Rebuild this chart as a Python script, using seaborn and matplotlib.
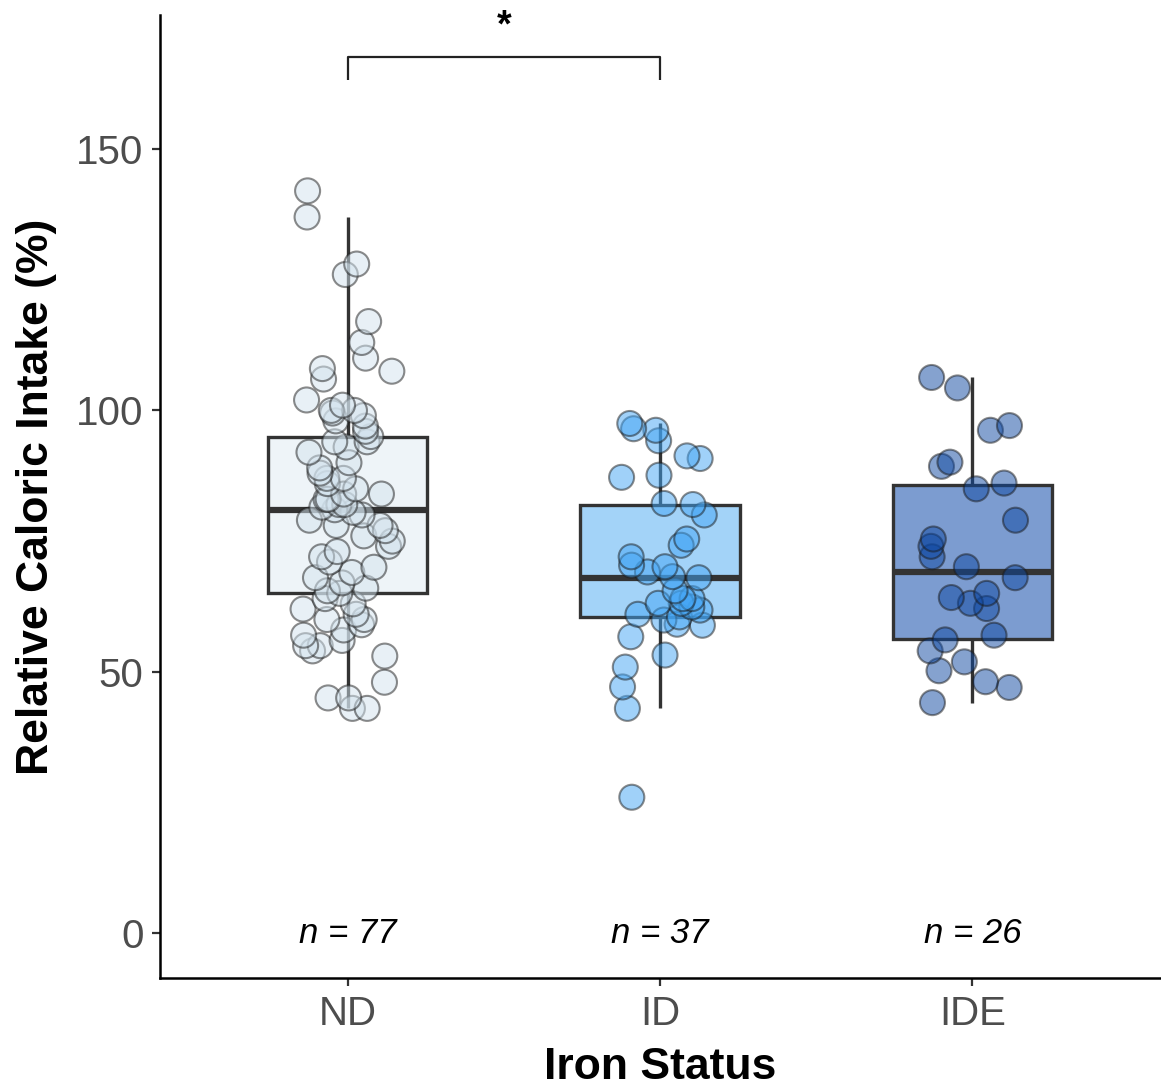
import numpy as np
import pandas as pd
import matplotlib
matplotlib.use('Agg')
import matplotlib.pyplot as plt
import seaborn as sns

# 1. DATA (relative caloric intake in %)
groups = ['ND', 'ID', 'IDE']

nd_values = [43, 43, 45, 45, 48, 53, 54, 55, 55, 56, 57, 58, 59, 60, 60, 61, 62, 63, 64,
             65,
             65.5, 66, 67, 68, 69, 70, 71, 72, 73, 74, 75, 76, 77, 78, 78, 79, 80, 80.5,
             81,
             81.5, 82, 82, 83, 83, 84, 84, 85, 86, 87, 87, 88, 89, 90, 92, 93, 94, 94,
             95,
             96, 97, 98, 99, 99.5, 100, 100, 101, 102, 106, 107.5, 108, 110, 113, 117,
             126, 128, 137, 142]

id_values = [26.0, 43.0, 47.1, 50.9, 53.2, 56.7, 58.9, 59.1, 59.9, 60.5, 61.0, 61.8,
             62.4, 63.1, 63.1, 64.0, 64.0, 65.5, 68.0, 68.2, 69.1, 70.1, 70.4, 72.0,
             74.2, 75.4, 80.0, 82.0, 82.2, 87.2, 87.6, 90.8, 91.3, 94.2, 96.2, 96.5, 97.5]

ide_values = [44.1, 47.0, 48.1, 50.2, 51.9, 54.0, 56.1, 57.0, 62.1, 63.1, 64.2, 65.0,
              68.0, 70.1, 72.0, 74.0, 75.4, 79.0, 85.0, 86.1, 89.3, 90.1, 96.2, 97.1,
              104.3, 106.3]

box_colors = ['#EEF4F8', '#A3D3F8', '#7C9CD0']
point_colors = ['#D3E3EE', '#42A5F5', '#0D47A1']

df = pd.DataFrame({
    'Status': ['ND'] * len(nd_values) + ['ID'] * len(id_values) + ['IDE'] * len(ide_values),
    'Intake': nd_values + id_values + ide_values,
})

# 2. PLOT
sns.set_theme(style='ticks')
plt.rcParams['font.family'] = ['Liberation Sans', 'DejaVu Sans']

fig, ax = plt.subplots(figsize=(11.61, 10.88), dpi=100)
fig.subplots_adjust(left=0.138, right=0.999, bottom=0.101, top=0.986)

sns.boxplot(data=df, x='Status', y='Intake', hue='Status', order=groups, hue_order=groups,
            palette=box_colors, saturation=1, width=0.51, showfliers=False,
            linewidth=2.4, linecolor='#333333', legend=False, ax=ax,
            medianprops={'linewidth': 4.5, 'color': '#333333'},
            capprops={'linewidth': 0})

np.random.seed(3)
sns.stripplot(data=df, x='Status', y='Intake', hue='Status', order=groups, hue_order=groups,
              palette=point_colors, jitter=0.15, size=18, alpha=0.5,
              edgecolor='#1a1a1a', linewidth=1.5, legend=False, ax=ax)

# sample sizes under each group
counts = [len(nd_values), len(id_values), len(ide_values)]
for i, n in enumerate(counts):
    ax.text(i, 0, f'n = {n}', ha='center', va='center', fontsize=25,
            style='italic', color='black')

# significance bracket ND vs ID
ax.plot([0, 0, 1, 1], [163.3, 167.6, 167.6, 163.3], color='#222222', lw=1.6,
        solid_capstyle='butt')
ax.text(0.5, 173.5, '*', ha='center', va='center', fontsize=27, fontweight='bold',
        color='black')

ax.set_xlim(-0.6, 2.6)
ax.set_ylim(-8.6, 175.6)
ax.set_yticks([0, 50, 100, 150])
ax.set_xlabel('Iron Status', fontsize=32, fontweight='bold', labelpad=10, color='black')
ax.set_ylabel('Relative Caloric Intake (%)', fontsize=32, fontweight='bold', labelpad=14,
              color='black')
ax.tick_params(axis='both', labelsize=29, labelcolor='#4D4D4D', color='#333333',
               length=6, width=1.6, pad=6)

sns.despine(ax=ax)
for side in ['left', 'bottom']:
    ax.spines[side].set_linewidth(1.8)
    ax.spines[side].set_color('black')

plt.savefig('out.png', dpi=100)
